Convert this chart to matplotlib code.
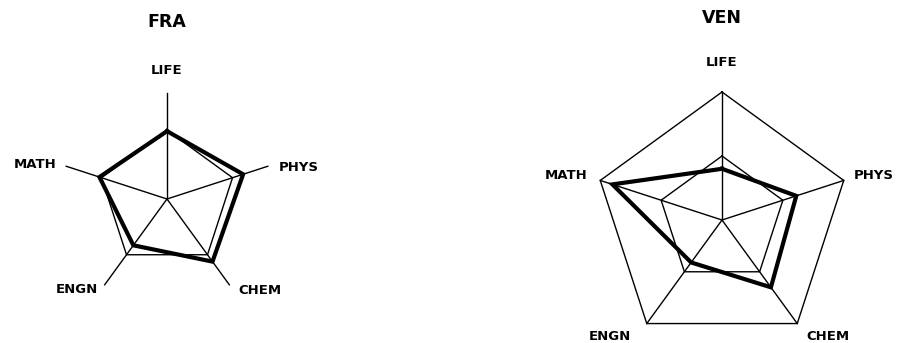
import numpy as np
import matplotlib
matplotlib.use("Agg")
import matplotlib.pyplot as plt

plt.rcParams['font.family'] = ['DejaVu Sans']

# fields, clockwise from the top
fields = ["LIFE", "PHYS", "CHEM", "ENGN", "MATH"]

# FRA profile (thick) and reference pentagon (thin), as share of spoke length
fra_values = [0.64, 0.755, 0.73, 0.54, 0.67]
fra_ref = [0.65, 0.65, 0.65, 0.65, 0.65]

# VEN profile, reference and outer pentagon
ven_values = [0.40, 0.61, 0.65, 0.41, 0.90]
ven_ref = [0.50, 0.50, 0.50, 0.50, 0.50]
ven_outer = [1.0, 1.0, 1.0, 1.0, 1.0]

W, H = 909, 343
fig = plt.figure(figsize=(W / 100, H / 100), dpi=100)

theta = np.linspace(0, 2 * np.pi, len(fields), endpoint=False)


def closed(v):
    return np.append(theta, theta[0]), np.append(v, v[0])


def radar(cx, cy, R, values, ref, outer, title, title_y, offsets):
    ax = fig.add_axes([(cx - R) / W, 1 - (cy + R) / H, 2 * R / W, 2 * R / H],
                      projection='polar')
    ax.set_theta_offset(np.pi / 2)
    ax.set_theta_direction(-1)
    ax.set_ylim(0, 1)
    ax.axis('off')

    for t in theta:
        ax.plot([t, t], [0, 1], color='black', lw=1.0, clip_on=False)
    if outer is not None:
        ax.plot(*closed(outer), color='black', lw=1.0, clip_on=False)
    ax.plot(*closed(ref), color='black', lw=1.0, clip_on=False)
    ax.plot(*closed(values), color='black', lw=3.0, clip_on=False,
            solid_joinstyle='miter')

    for t, name, (dx, dy, ha) in zip(theta, fields, offsets):
        ax.annotate(name, xy=(t, 1.0), xytext=(dx, dy), textcoords='offset pixels',
                    ha=ha, va='center', fontsize=9.5, fontweight='bold',
                    annotation_clip=False)

    fig.text(cx / W, 1 - title_y / H, title, ha='center', va='center',
             fontsize=12.5, fontweight='bold')


radar(167, 199, 106, fra_values, fra_ref, None, "FRA", 22,
      [(0, 23, 'center'), (11, -1, 'left'), (9, -6, 'left'),
       (-7, -5, 'right'), (-10, 2, 'right')])

radar(722, 220, 128, ven_values, ven_ref, ven_outer, "VEN", 18,
      [(0, 29, 'center'), (10, 5, 'left'), (9, -13, 'left'),
       (-16, -13, 'right'), (-13, 5, 'right')])

fig.savefig("out.png", dpi=100)
